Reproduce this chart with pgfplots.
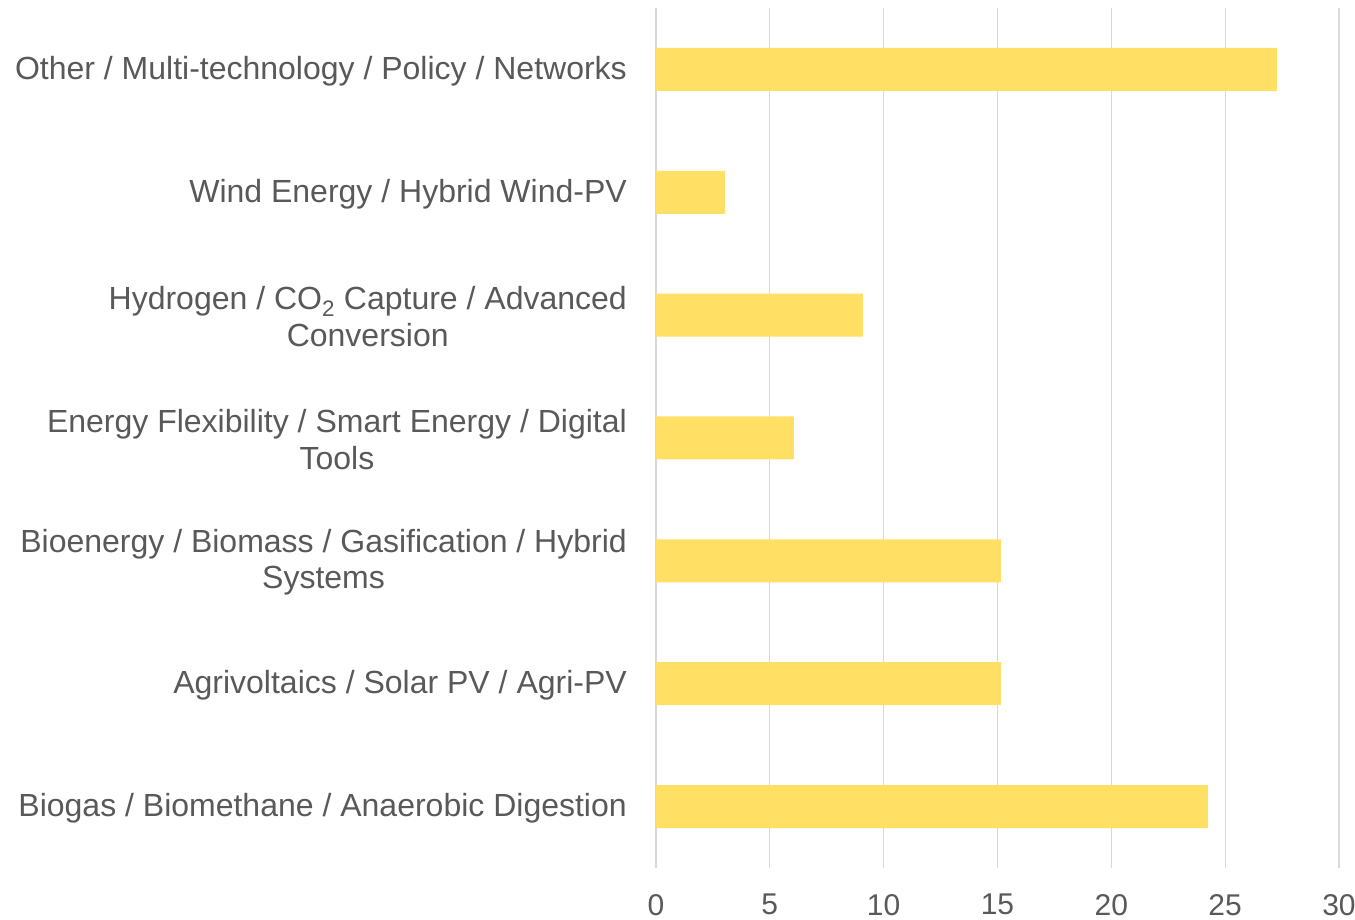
\documentclass[border=0pt]{standalone}
\usepackage{pgfplots}
\pgfplotsset{compat=1.18}
\usepackage{fontspec}
\setmainfont{Liberation Sans}
\definecolor{barc}{HTML}{FFDF64}
\definecolor{txt}{HTML}{595959}
\definecolor{gridc}{HTML}{D9D9D9}
\begin{document}
\begin{tikzpicture}
\begin{axis}[
 at={(656pt,52pt)}, anchor=south west,
 scale only axis, width=683pt, height=860pt,
 xmin=0, xmax=30, ymin=-0.5, ymax=6.5,
 xbar, bar width=0.35,
 xtick={0,5,...,30},
 ytick={0,...,6},
 yticklabels={
  {Biogas / Biomethane / Anaerobic Digestion},
  {Agrivoltaics / Solar PV / Agri-PV},
  {Bioenergy / Biomass / Gasification / Hybrid\\Systems},
  {Energy Flexibility / Smart Energy / Digital\\Tools},
  {Hydrogen / CO\textsubscript{2} Capture / Advanced\\Conversion},
  {Wind Energy / Hybrid Wind-PV},
  {Other / Multi-technology / Policy / Networks}},
 xmajorgrids, major grid style={gridc, line width=1.3pt},
 axis line style={draw=none},
 tick style={draw=none},
 major tick length=0pt,
 ticklabel style={text=txt, inner sep=0pt},
 yticklabel style={font=\fontsize{32}{36.5}\selectfont, align=center, anchor=east, xshift=-29pt, yshift=-1.5pt},
 xticklabel style={font=\fontsize{30}{36}\selectfont, anchor=north, yshift=-26pt},
 /pgf/number format/assume math mode=true,
]
\addplot[fill=barc, draw=none] coordinates {(24.24,0) (15.15,1) (15.15,2) (6.06,3) (9.09,4) (3.03,5) (27.27,6)};
\end{axis}
\pgfresetboundingbox
\path[use as bounding box] (0,0) rectangle (1355pt,920pt);
\end{tikzpicture}
\end{document}
